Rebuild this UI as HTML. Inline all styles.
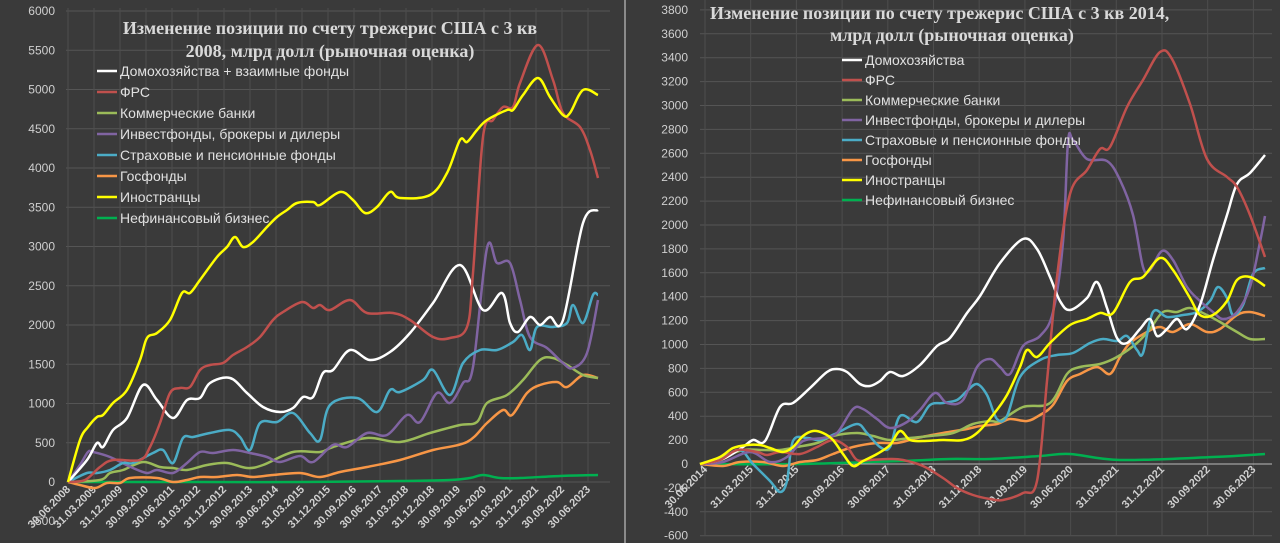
<!DOCTYPE html>
<html><head><meta charset="utf-8"><style>
html,body{margin:0;padding:0;background:#3a3a3a;}
svg{display:block}
</style></head><body>
<svg id="s" width="1280" height="543" xmlns="http://www.w3.org/2000/svg" font-family="Liberation Sans, sans-serif">
<rect width="1280" height="543" fill="#3a3a3a"/>
<line x1="625" y1="0" x2="625" y2="543" stroke="#8a8a8a" stroke-width="2"/>
<g id="grid"></g>
<g id="lines"></g>
<g font-family="Liberation Serif, serif" font-weight="bold" font-size="18" fill="#d9d9d9">
<text x="330" y="34" text-anchor="middle">Изменение позиции по счету трежерис США с 3 кв</text>
<text x="330" y="57" text-anchor="middle">2008, млрд долл (рыночная оценка)</text>
<text x="710" y="19">Изменение позиции по счету трежерис США с 3 кв 2014,</text>
<text x="830" y="41">млрд долл (рыночная оценка)</text>
</g>
<g id="leg" font-size="14" fill="#e0e0e0"></g>
</svg>
<script>
const NS="http://www.w3.org/2000/svg";
function el(p,t,a,txt){const e=document.createElementNS(NS,t);for(const k in a)e.setAttribute(k,a[k]);if(txt!==undefined)e.textContent=txt;document.getElementById(p).appendChild(e);return e;}
function smooth(pts){let d="M"+pts[0][0]+","+pts[0][1];for(let i=0;i<pts.length-1;i++){const p0=pts[i-1]||pts[i],p1=pts[i],p2=pts[i+1],p3=pts[i+2]||p2;const t=0.17;
d+=" C"+(p1[0]+(p2[0]-p0[0])*t)+","+(p1[1]+(p2[1]-p0[1])*t)+" "+(p2[0]-(p3[0]-p1[0])*t)+","+(p2[1]-(p3[1]-p1[1])*t)+" "+p2[0]+","+p2[1];}return d;}
for(let v=0;v<=6000;v+=500){const y=482-v*0.0785;el("grid","line",{x1:66,x2:610,y1:y,y2:y,stroke:"#555","stroke-width":1});el("grid","text",{x:55,y:y+4,"text-anchor":"end","font-size":12,fill:"#cfcfcf"},v);}
el("grid","text",{x:55,y:525,"text-anchor":"end","font-size":12,fill:"#cfcfcf"},"-500");
const lL=["30.06.2008","31.03.2009","31.12.2009","30.09.2010","30.06.2011","31.03.2012","31.12.2012","30.09.2013","30.06.2014","31.03.2015","31.12.2015","30.09.2016","30.06.2017","31.03.2018","31.12.2018","30.09.2019","30.06.2020","31.03.2021","31.12.2021","30.09.2022","30.06.2023"];
lL.forEach((t,i)=>{const x=68+i*26;el("grid","line",{x1:x,x2:x,y1:8,y2:482,stroke:"#4d4d4d"});el("grid","text",{x:x+3,y:490,"text-anchor":"end","font-size":11,"font-weight":"bold",fill:"#d0d0d0",transform:"rotate(-45 "+(x+3)+" 490)"},t);});
for(let v=-600;v<=3800;v+=200){const y=464-v*0.1195;el("grid","line",{x1:700,x2:1272,y1:y,y2:y,stroke:"#555"});el("grid","text",{x:688,y:y+4,"text-anchor":"end","font-size":12,fill:"#cfcfcf"},v);}
const lR=["30.06.2014","31.03.2015","31.12.2015","30.09.2016","30.06.2017","31.03.2018","31.12.2018","30.09.2019","30.06.2020","31.03.2021","31.12.2021","30.09.2022","30.06.2023"];
lR.forEach((t,i)=>{const x=705+i*45.7;el("grid","line",{x1:x,x2:x,y1:0,y2:535,stroke:"#4d4d4d"});el("grid","text",{x:x+3,y:470,"text-anchor":"end","font-size":11,"font-weight":"bold",fill:"#d0d0d0",transform:"rotate(-45 "+(x+3)+" 470)"},t);});
el("grid","line",{x1:700,x2:1272,y1:464,y2:464,stroke:"#bbb"});
const C={w:"#ffffff",r:"#c0504d",g:"#9bbb59",p:"#8064a2",c:"#4bacc6",o:"#f79646",y:"#ffff00",d:"#00b050"};
const L={
y:[[68,482],[80,440],[88,427],[97,417],[103,415],[113,403],[127,390],[140,360],[147,338],[157,333],[170,320],[182,293],[190,293],[200,280],[217,257],[227,247],[235,237],[243,247],[253,242],[267,227],[277,217],[287,210],[297,203],[313,202],[320,205],[340,192],[353,200],[365,213],[377,207],[390,192],[400,198],[430,195],[447,173],[460,140],[467,142],[477,130],[487,120],[507,110],[513,110],[523,95],[538,78],[550,97],[563,115],[570,113],[583,90],[598,95]],
r:[[68,482],[85,480],[100,467],[113,460],[140,460],[150,447],[160,423],[170,393],[180,388],[190,387],[200,370],[210,365],[223,363],[233,355],[247,347],[260,337],[273,320],[283,312],[302,302],[313,308],[320,305],[330,310],[350,300],[367,313],[393,313],[410,320],[433,337],[450,338],[467,327],[473,273],[483,137],[493,120],[503,107],[513,107],[520,83],[538,45],[553,80],[563,113],[580,127],[590,150],[598,178]],
w:[[68,482],[87,460],[97,443],[103,447],[113,430],[127,418],[143,385],[157,400],[173,418],[187,400],[200,398],[210,383],[230,378],[247,393],[263,407],[280,412],[293,408],[303,397],[313,397],[323,373],[333,370],[350,350],[370,360],[390,352],[410,333],[433,303],[460,265],[483,310],[502,293],[510,323],[518,332],[530,317],[540,325],[550,317],[563,320],[583,223],[598,210]],
p:[[68,482],[80,465],[88,452],[93,452],[110,457],[133,468],[147,473],[157,470],[173,473],[187,463],[200,452],[213,453],[233,450],[250,453],[267,457],[280,462],[300,456],[313,462],[333,445],[347,447],[367,433],[387,435],[407,415],[420,422],[437,393],[450,403],[463,383],[473,367],[487,248],[497,263],[510,263],[520,300],[530,337],[547,348],[563,363],[573,368],[587,353],[598,300]],
c:[[68,482],[87,473],[97,473],[110,470],[123,463],[133,463],[153,453],[163,450],[173,463],[183,438],[193,437],[210,433],[230,430],[240,437],[250,450],[260,423],[277,422],[293,413],[310,433],[320,440],[330,405],[357,398],[377,412],[390,390],[400,392],[423,380],[433,370],[450,395],[463,363],[480,350],[497,350],[513,342],[522,335],[530,350],[537,327],[553,327],[567,323],[573,305],[583,323],[593,295],[598,295]],
g:[[68,482],[100,480],[110,473],[123,470],[143,462],[160,467],[173,468],[187,470],[207,465],[227,463],[247,468],[263,465],[293,452],[320,452],[333,447],[367,438],[400,442],[430,433],[460,425],[477,422],[487,403],[507,395],[523,380],[540,360],[553,358],[567,365],[583,375],[598,378]],
o:[[68,482],[80,485],[95,488],[107,483],[120,483],[130,478],[157,478],[173,482],[187,480],[200,477],[217,477],[237,475],[253,477],[273,475],[300,473],[320,477],[340,472],[367,467],[400,460],[433,450],[467,442],[487,423],[503,410],[512,415],[527,393],[540,385],[557,382],[567,387],[583,375],[598,378]],
d:[[68,482],[200,482],[300,482],[400,481],[450,480],[470,478],[483,475],[500,478],[520,478],[560,476],[598,475]]};
const R={
w:[[700,464],[723,459],[743,447],[753,440],[765,441],[780,407],[793,403],[810,388],[827,372],[837,369],[847,372],[860,384],[870,386],[880,381],[890,372],[903,376],[920,365],[937,346],[950,338],[967,313],[980,296],[1000,263],[1023,239],[1037,249],[1050,277],[1060,301],[1070,310],[1087,298],[1097,282],[1107,308],[1117,338],[1127,343],[1140,329],[1150,319],[1157,336],[1167,329],[1177,319],[1187,329],[1200,305],[1213,260],[1227,215],[1237,184],[1250,173],[1265,155]],
r:[[700,464],[720,460],[737,450],[757,452],[767,455],[780,452],[800,454],[817,447],[833,440],[847,447],[857,460],[870,460],[890,459],[903,460],[923,466],[943,478],[957,488],[973,495],[990,499],[1003,500],[1023,493],[1037,481],[1047,381],[1057,277],[1070,194],[1087,170],[1100,149],[1110,147],[1127,107],[1143,80],[1160,52],[1172,59],[1190,104],[1207,159],[1227,177],[1237,187],[1250,215],[1265,257]],
g:[[700,464],[723,457],[743,450],[763,450],[780,450],[797,447],[817,443],[833,436],[857,433],[873,436],[890,440],[910,438],[930,436],[953,433],[973,424],[990,421],[1000,421],[1023,407],[1050,403],[1067,374],[1080,367],[1100,364],[1117,357],[1137,343],[1150,329],[1163,312],[1177,312],[1190,308],[1207,315],[1220,322],[1237,332],[1250,339],[1265,339]],
o:[[700,464],[723,466],[740,462],[763,462],[783,466],[800,462],[817,460],[833,454],[853,447],[877,443],[897,443],[917,438],[943,433],[967,429],[980,426],[997,424],[1010,419],[1027,421],[1040,415],[1053,405],[1067,381],[1080,374],[1097,367],[1110,374],[1120,357],[1130,343],[1147,332],[1160,327],[1173,332],[1190,324],[1207,332],[1220,329],[1237,315],[1250,312],[1265,316]],
c:[[700,464],[723,457],[740,450],[753,464],[770,481],[780,492],[787,481],[793,441],[807,438],[820,440],[837,433],[857,424],[867,433],[880,447],[890,447],[900,416],[917,422],[930,405],[943,403],[957,400],[967,391],[977,384],[987,395],[997,419],[1007,416],[1020,377],[1040,360],[1057,355],[1073,353],[1090,343],[1103,339],[1117,341],[1127,336],[1137,350],[1143,353],[1153,312],[1167,317],[1183,315],[1197,312],[1210,301],[1218,287],[1227,298],[1233,315],[1243,305],[1253,274],[1265,268]],
p:[[700,464],[723,462],[750,452],[770,462],[787,457],[803,441],[823,438],[837,433],[853,409],[863,409],[877,419],[890,428],[907,422],[920,410],[935,393],[947,403],[963,400],[977,367],[990,359],[1000,367],[1010,374],[1023,346],[1040,336],[1053,312],[1063,242],[1068,142],[1073,140],[1087,159],[1107,161],[1120,180],[1133,215],[1143,267],[1150,270],[1162,251],[1173,260],[1187,287],[1200,301],[1213,312],[1223,319],[1237,312],[1250,287],[1260,242],[1265,216]],
y:[[700,464],[720,457],[733,448],[747,445],[760,445],[770,448],[783,452],[793,447],[803,436],[813,431],[823,433],[833,440],[843,454],[853,466],[863,461],[877,454],[890,445],[900,431],[910,440],[923,441],[943,440],[963,440],[977,433],[993,415],[1007,395],[1020,367],[1027,350],[1037,357],[1050,343],[1070,325],[1087,319],[1100,313],[1113,313],[1130,282],[1143,277],[1160,258],[1173,270],[1190,298],[1200,315],[1213,315],[1227,301],[1237,280],[1250,277],[1265,286]],
d:[[700,464],[800,464],[900,461],[950,459],[990,459],[1040,456],[1070,454],[1120,460],[1213,457],[1265,454]]};
["d","o","g","p","c","w","r","y"].forEach(k=>{el("lines","path",{d:smooth(L[k]),fill:"none",stroke:C[k],"stroke-width":2.5,"stroke-linejoin":"round"});});
["d","o","g","c","p","w","r","y"].forEach(k=>{el("lines","path",{d:smooth(R[k]),fill:"none",stroke:C[k],"stroke-width":2.5,"stroke-linejoin":"round"});});
const legL=[["w","Домохозяйства + взаимные фонды"],["r","ФРС"],["g","Коммерческие банки"],["p","Инвестфонды, брокеры и дилеры"],["c","Страховые и пенсионные фонды"],["o","Госфонды"],["y","Иностранцы"],["d","Нефинансовый бизнес"]];
legL.forEach((a,i)=>{const y=71+i*21;el("leg","line",{x1:97,x2:117,y1:y,y2:y,stroke:C[a[0]],"stroke-width":2.5});el("leg","text",{x:120,y:y+5},a[1]);});
const legR=[["w","Домохозяйства"],["r","ФРС"],["g","Коммерческие банки"],["p","Инвестфонды, брокеры и дилеры"],["c","Страховые и пенсионные фонды"],["o","Госфонды"],["y","Иностранцы"],["d","Нефинансовый бизнес"]];
legR.forEach((a,i)=>{const y=60+i*20;el("leg","line",{x1:842,x2:862,y1:y,y2:y,stroke:C[a[0]],"stroke-width":2.5});el("leg","text",{x:865,y:y+5},a[1]);});
</script>
</body></html>
